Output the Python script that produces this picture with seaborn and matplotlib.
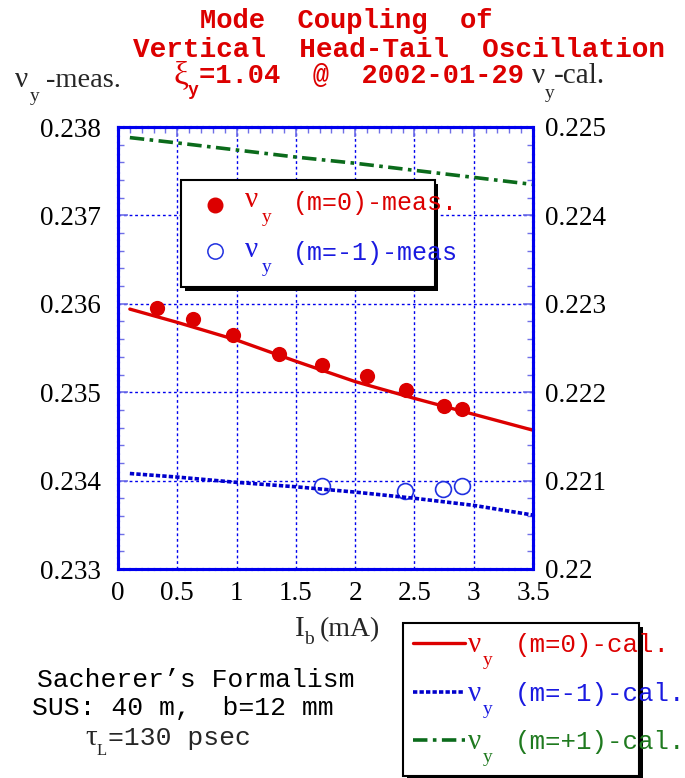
import matplotlib
matplotlib.use("Agg")
import matplotlib.pyplot as plt
from matplotlib.patches import Rectangle
from matplotlib.lines import Line2D
from matplotlib.ticker import MultipleLocator
import seaborn as sns

# measured tunes (left axis)
I_meas_m0 = [0.33, 0.63, 0.97, 1.355, 1.72, 2.10, 2.43, 2.75, 2.905]
nu_meas_m0 = [0.23595, 0.23583, 0.23565, 0.23543, 0.23531, 0.23518, 0.23503, 0.23484, 0.23481]
I_meas_m1 = [1.72, 2.42, 2.745, 2.90]
nu_meas_m1 = [0.23394, 0.23388, 0.23391, 0.23394]

# calculated tunes (right axis)
I_cal = [0.1, 0.5, 1.0, 1.5, 2.0, 2.5, 3.0, 3.5]
nu_cal_m0 = [0.22294, 0.22279, 0.22259, 0.22235, 0.22212, 0.22193, 0.22175, 0.22157]
nu_cal_m1 = [0.22108, 0.22104, 0.22098, 0.22093, 0.22087, 0.22080, 0.22072, 0.22061]
nu_cal_p1 = [0.22488, 0.22482, 0.22474, 0.22466, 0.22459, 0.22451, 0.22443, 0.22435]

x_ticks = [0, 0.5, 1, 1.5, 2, 2.5, 3, 3.5]
x_labels = ["0", "0.5", "1", "1.5", "2", "2.5", "3", "3.5"]
left_ticks = [0.233, 0.234, 0.235, 0.236, 0.237, 0.238]
left_labels = ["0.233", "0.234", "0.235", "0.236", "0.237", "0.238"]
right_ticks = [0.220, 0.221, 0.222, 0.223, 0.224, 0.225]
right_labels = ["0.22", "0.221", "0.222", "0.223", "0.224", "0.225"]

RED = "#dc0000"
BLUE_TXT = "#1a1ae0"
GREEN = "#0b6b1b"
GREEN_TXT = "#1f7a1f"
MONO = "Liberation Mono"
SERIF = "Liberation Serif"

sns.set_style("white")
plt.rcParams["font.family"] = [SERIF, "DejaVu Sans"]

W, H = 685, 778
fig = plt.figure(figsize=(W / 100, H / 100), dpi=100)


def fx(x):
    return x / W


def fy(y):
    return 1 - y / H


def put(x, y, s, **kw):
    # text placed by pixel position of its left end and baseline
    kw.setdefault("zorder", 8)
    fig.text(fx(x), fy(y), s, ha="left", va="baseline", **kw)


ax = fig.add_axes([fx(118), fy(569), (533 - 118) / W, (569 - 127) / H])
ax2 = ax.twinx()

# data
sns.scatterplot(x=I_meas_m0, y=nu_meas_m0, ax=ax, color=RED, s=120,
                edgecolor=RED, linewidth=0, zorder=4)
sns.scatterplot(x=I_meas_m1, y=nu_meas_m1, ax=ax, color="white", s=130,
                edgecolor="#2030e0", linewidth=1.2, zorder=4)

sns.lineplot(x=I_cal, y=nu_cal_m0, ax=ax2, color=RED, linewidth=2.4)
sns.lineplot(x=I_cal, y=nu_cal_m1, ax=ax2, color="#0000cc", linewidth=2.6,
             linestyle=(0, (1.2, 0.6)))
sns.lineplot(x=I_cal, y=nu_cal_p1, ax=ax2, color=GREEN, linewidth=2.6,
             linestyle=(0, (4, 1.5, 1, 1.5)))

ax.set_xlim(0, 3.5)
ax.set_ylim(0.233, 0.238)
ax2.set_ylim(0.220, 0.225)

ax.set_xticks(x_ticks, labels=x_labels)
ax.set_yticks(left_ticks, labels=left_labels)
ax2.set_yticks(right_ticks, labels=right_labels)
ax.xaxis.set_minor_locator(MultipleLocator(0.1))
ax.yaxis.set_minor_locator(MultipleLocator(0.0002))
ax2.yaxis.set_minor_locator(MultipleLocator(0.0002))

tick_col = "#7070e8"
ax.tick_params(axis="both", which="both", direction="in", colors=tick_col,
               labelcolor="black", labelsize=19.5, top=True)
ax.tick_params(axis="both", which="major", length=7, width=1.2)
ax.tick_params(axis="both", which="minor", length=4, width=1.0)
ax.tick_params(axis="y", pad=12)
ax.tick_params(axis="x", pad=9)
ax2.tick_params(axis="y", which="both", direction="in", colors=tick_col,
                labelcolor="black", labelsize=19.5, pad=9)
ax2.tick_params(axis="y", which="major", length=7, width=1.2)
ax2.tick_params(axis="y", which="minor", length=4, width=1.0)

ax.grid(True, which="major", color="#0000ee", linestyle=(0, (2, 2)), linewidth=1.0)
for a in (ax, ax2):
    for sp in a.spines.values():
        sp.set_color("#0000ee")
        sp.set_linewidth(2.2)
        sp.set_linestyle((0, (1.5, 0.5)))
ax.set_xlabel("")
ax.set_ylabel("")
ax2.set_ylabel("")

# titles
tkw = dict(family=MONO, weight="bold", color=RED)
fig.text(fx(346), fy(28), "Mode  Coupling  of", ha="center", va="baseline", size=19.5, **tkw)
fig.text(fx(399), fy(57), "Vertical  Head-Tail  Oscillation", ha="center", va="baseline",
         size=20, **tkw)
put(174, 84, "\u03be", family=SERIF, size=24, color=RED)
put(188, 95, "y", size=13, **tkw)
put(199, 83, "=1.04  @  2002-01-29", size=19.5, **tkw)

# axis labels
put(15, 87, "\u03bd", size=21)
put(30, 101, "y", size=14)
put(46, 87, "-meas.", size=20.5)
put(532, 83, "\u03bd", size=21)
put(545, 98, "y", size=14)
put(554, 83, "-cal.", size=21)
put(295, 636, "I", size=21)
put(304, 644, "b", size=14)
put(320, 636, "(mA)", size=20)

# legend for measured values
fig.add_artist(Rectangle((fx(185), fy(291)), (438 - 185) / W, (291 - 184) / H,
                         transform=fig.transFigure, facecolor="black",
                         edgecolor="none", zorder=5))
fig.add_artist(Rectangle((fx(181), fy(287)), (435 - 181) / W, (287 - 180) / H,
                         transform=fig.transFigure, facecolor="white",
                         edgecolor="black", linewidth=1.5, zorder=6))
fig.add_artist(Line2D([fx(215)], [fy(205)], transform=fig.transFigure, marker="o",
                      markersize=10.5, color=RED, zorder=7))
fig.add_artist(Line2D([fx(215)], [fy(251)], transform=fig.transFigure, marker="o",
                      markersize=11, markerfacecolor="white",
                      markeredgecolor="#2030e0", markeredgewidth=1.1, zorder=7))
for base, rest, col in [(210, "(m=0)-meas.", RED), (260, "(m=-1)-meas", BLUE_TXT)]:
    put(245, base - 3, "\u03bd", size=21, color=col)
    put(262, base + 12, "y", size=14, color=col)
    put(293, base, rest, family=MONO, size=18, color=col)

# legend for calculated curves
fig.add_artist(Rectangle((fx(407), fy(790)), (643 - 407) / W, (790 - 627) / H,
                         transform=fig.transFigure, facecolor="black",
                         edgecolor="none", zorder=5))
fig.add_artist(Rectangle((fx(403), fy(776)), (639 - 403) / W, (776 - 623) / H,
                         transform=fig.transFigure, facecolor="white",
                         edgecolor="black", linewidth=1.5, zorder=6))
fig.add_artist(Line2D([fx(413), fx(465)], [fy(643)] * 2, transform=fig.transFigure,
                      color=RED, linewidth=2.4, zorder=7))
fig.add_artist(Line2D([fx(413), fx(465)], [fy(692)] * 2, transform=fig.transFigure,
                      color="#0000cc", linewidth=2.6, linestyle=(0, (1.2, 0.6)), zorder=7))
fig.add_artist(Line2D([fx(413), fx(465)], [fy(740)] * 2, transform=fig.transFigure,
                      color=GREEN, linewidth=2.6, linestyle=(0, (4, 1.5, 1, 1.5)), zorder=7))
for base, rest, col in [(652, "(m=0)-cal.", RED), (701, "(m=-1)-cal.", BLUE_TXT),
                        (749, "(m=+1)-cal.", GREEN_TXT)]:
    put(468, base, "\u03bd", size=21, color=col)
    put(483, base + 13, "y", size=14, color=col)
    put(515, base, rest, family=MONO, size=18.5, color=col)

# annotation bottom left
nkw = dict(family=MONO, size=19, color="black", ha="center", va="baseline")
fig.text(fx(196), fy(687), "Sacherer\u2019s Formalism", **nkw)
fig.text(fx(183), fy(715), "SUS: 40 m,  b=12 mm", **nkw)
put(85, 745, "\u03c4", size=21)
put(97, 755, "L", size=12)
put(108, 745, "=130 psec", family=MONO, size=19)

fig.savefig("out.png", dpi=100)
